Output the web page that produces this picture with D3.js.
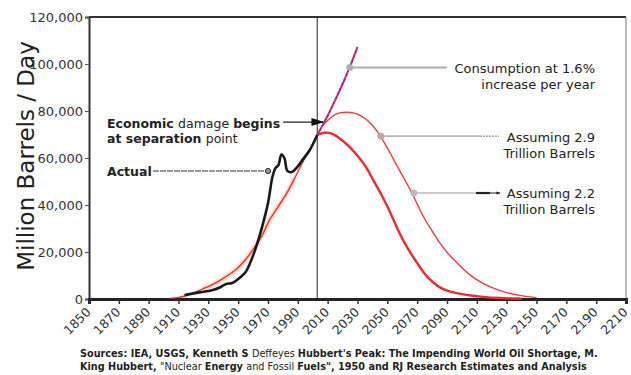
<!DOCTYPE html>
<html><head><meta charset="utf-8">
<script src="https://cdn.jsdelivr.net/npm/d3@7/dist/d3.min.js"></script>
<style>
html,body{margin:0;padding:0;background:#fff;}
svg{display:block;}
text{font-family:"DejaVu Sans",Verdana,sans-serif;}
</style></head><body>
<svg id="c" width="631" height="375"></svg>
<script>
// ---------- data ----------
const xTickYears = [1850,1870,1890,1910,1930,1950,1970,1990,2010,2030,2050,2070,2090,2110,2130,2150,2170,2190,2210];
const yTickValues = [0,20000,40000,60000,80000,100000,120000];

const actualYears  = [1914,1920,1926,1933,1938,1942,1946,1950,1955,1958,1962,1966,1970,1973,1975,1977,1979,1981,1983,1986,1989,1993,1998,2003];
const actualValues = [1700,2400,3000,3800,5000,6400,6800,8500,11500,15300,22100,30600,40800,52000,55700,57000,61500,60000,54500,54000,55700,59100,63400,69800];

const histFitYears  = [1905,1910,1915,1920,1926,1933,1940,1949,1955,1960,1966,1971,1977,1983,1988,1993,1998,2003];
const histFitValues = [300,700,1400,2500,4200,6200,8800,12800,16800,21000,27000,33600,39500,45500,51500,57900,63500,69800];

const consYears  = [2003,2010,2015,2020,2025,2030];
const consValues = [69800,78000,84600,91500,99000,107200];

const hub22Years  = [2003,2008,2013,2019,2025,2030,2036,2041,2047,2053,2058,2064,2070,2075,2081,2086,2092,2103,2114,2125,2140];
const hub22Values = [69800,71000,70600,68000,64700,61000,56200,50000,43400,35500,28000,21000,15300,10500,6800,4500,3000,1700,850,400,150];

const hub29Years  = [2007,2010,2014,2018,2023,2028,2032,2037,2043,2048,2052,2057,2063,2069,2074,2080,2085,2091,2097,2102,2107,2113,2119,2130,2141,2150];
const hub29Values = [74000,76000,78300,79300,79600,79200,78300,76000,71900,66500,62100,56000,49400,42000,34900,29000,23800,19000,15300,12000,9400,7000,5100,2500,1200,600];

const separationYear = 2003;

// ---------- layout ----------
const svg = d3.select("#c");
const L = 89, R = 626, T = 17, B = 299;
const x = d3.scaleLinear().domain([1850,2210]).range([L,R]);
const y = d3.scaleLinear().domain([0,120000]).range([B,T]);
const smooth = d3.line().x(d=>x(d[0])).y(d=>y(d[1])).curve(d3.curveBasis);
const through = d3.line().x(d=>x(d[0])).y(d=>y(d[1])).curve(d3.curveCatmullRom.alpha(0.5));
const zip = (a,b)=>a.map((v,i)=>[v,b[i]]);

// frame
svg.append("line").attr("x1",L).attr("x2",R).attr("y1",T).attr("y2",T).attr("stroke","#333").attr("stroke-width",2);
svg.append("line").attr("x1",R).attr("x2",R).attr("y1",T).attr("y2",B).attr("stroke","#777").attr("stroke-width",1);

// y axis
const ya = svg.append("g").attr("transform",`translate(${L},0)`)
  .call(d3.axisLeft(y).tickValues(yTickValues).tickFormat(d3.format(",")).tickSize(4).tickPadding(2));
ya.select(".domain").attr("stroke","#333").attr("stroke-width",2);
ya.selectAll(".tick line").attr("stroke","#555");
ya.selectAll(".tick text").attr("font-size",13).attr("fill","#333").attr("font-family","DejaVu Sans");

// x axis
const xa = svg.append("g").attr("transform",`translate(0,${B})`)
  .call(d3.axisBottom(x).tickValues(xTickYears).tickFormat(d3.format("d")).tickSize(5));
xa.select(".domain").attr("stroke","#222").attr("stroke-width",3);
xa.selectAll(".tick line").attr("stroke","#333").attr("stroke-width",1.5);
xa.selectAll(".tick text").attr("font-size",12.5).attr("fill","#333").attr("font-family","DejaVu Sans")
  .attr("text-anchor","end").attr("dy",0).attr("y",0)
  .attr("transform","translate(2,14) rotate(-45)");

// separation line
svg.append("line").attr("x1",x(separationYear)).attr("x2",x(separationYear)).attr("y1",T).attr("y2",B)
  .attr("stroke","#222").attr("stroke-width",1);

// historical fit with halo
const histPts = zip(histFitYears,histFitValues);
svg.append("path").datum(histPts.filter(d=>d[0]>=1926&&d[0]<=1988)).attr("d",through)
  .attr("fill","none").attr("stroke","#f7cfb0").attr("stroke-width",5).attr("opacity",0.7);
svg.append("path").datum(histPts).attr("d",through).attr("fill","none").attr("stroke","#f0302f").attr("stroke-width",1.4);

// hubbert curves
svg.append("path").datum(zip(hub29Years,hub29Values)).attr("d",smooth).attr("fill","none").attr("stroke","#f23a3c").attr("stroke-width",1.4);
svg.append("path").datum(zip(hub22Years,hub22Values)).attr("d",smooth).attr("fill","none").attr("stroke","#ee2a30").attr("stroke-width",2.4);

// consumption
svg.append("path").datum(zip(consYears,consValues)).attr("d",through).attr("fill","none").attr("stroke","#e8303a").attr("stroke-width",2);
svg.append("path").datum(zip(consYears,consValues)).attr("d",through).attr("fill","none").attr("stroke","#7a2fc0").attr("stroke-width",1.6).attr("stroke-dasharray","3,2");

// actual
svg.append("path").datum(zip(actualYears,actualValues)).attr("d",through).attr("fill","none").attr("stroke","#1a1a1a").attr("stroke-width",2.6).attr("stroke-linejoin","round");

// ---------- annotations ----------
svg.append("text").attr("transform","translate(34,156) rotate(-90)").attr("text-anchor","middle")
  .attr("font-size",23).attr("fill","#222").text("Million Barrels / Day");

function richText(xp, yp, parts, anchor, size, family){
  const t = svg.append("text").attr("x",xp).attr("y",yp).attr("font-size",size).attr("fill","#222").attr("text-anchor",anchor||"start");
  if (family) t.attr("font-family",family);
  parts.forEach(p=>t.append("tspan").attr("font-weight",p[1]?"bold":"normal").text(p[0]));
  return t;
}
richText(107,128,[["Economic ",1],["damage ",0],["begins",1]],"start",12.5);
richText(107,143,[["at separation ",1],["point",0]],"start",12.5);
richText(107,176,[["Actual",1]],"start",12.5);

richText(595,73,[["Consumption at 1.6%",0]],"end",13);
richText(595,89,[["increase per year",0]],"end",13);
richText(595,142,[["Assuming 2.9",0]],"end",13);
richText(595,158,[["Trillion Barrels",0]],"end",13);
richText(595,198,[["Assuming 2.2",0]],"end",13);
richText(595,214,[["Trillion Barrels",0]],"end",13);

// connectors
const defs = svg.append("defs");
defs.append("marker").attr("id","ah").attr("viewBox","0 0 10 10").attr("refX",9).attr("refY",5)
  .attr("markerWidth",4).attr("markerHeight",4).attr("orient","auto")
  .append("path").attr("d","M0,1 L10,5 L0,9 Z").attr("fill","#222");

// economic damage
const ecoY = y(75300);
svg.append("line").attr("x1",283).attr("x2",323).attr("y1",ecoY).attr("y2",ecoY).attr("stroke","#222").attr("stroke-width",1.2);
svg.append("path").attr("d",`M${x(2004.5)-8},${ecoY-4} L${x(2004.5)+5},${ecoY} L${x(2004.5)-8},${ecoY+4} Z`).attr("fill","#111");

// actual
const actY = 171;
svg.append("line").attr("x1",153).attr("x2",266).attr("y1",actY).attr("y2",actY).attr("stroke","#333").attr("stroke-width",1.2).attr("stroke-dasharray","6,1");
svg.append("circle").attr("cx",268).attr("cy",actY).attr("r",2.6).attr("fill","#999").attr("stroke","#333").attr("stroke-width",1);

// consumption
const cY = y(98500), cX = x(2024.8);
svg.append("line").attr("x1",cX).attr("x2",447).attr("y1",cY).attr("y2",cY).attr("stroke","#b0b0b0").attr("stroke-width",2);
svg.append("circle").attr("cx",cX).attr("cy",cY).attr("r",3.5).attr("fill","#b0b0b0");

// 2.9
const a9X = x(2045.7), a9Y = y(69300);
svg.append("line").attr("x1",a9X).attr("x2",480).attr("y1",a9Y).attr("y2",a9Y).attr("stroke","#b8b8b8").attr("stroke-width",1.6);
svg.append("line").attr("x1",480).attr("x2",499).attr("y1",a9Y).attr("y2",a9Y).attr("stroke","#777").attr("stroke-width",1).attr("stroke-dasharray","2,1");
svg.append("circle").attr("cx",a9X).attr("cy",a9Y).attr("r",3.5).attr("fill","#c0a8a0");

// 2.2
const a2X = x(2067.8), a2Y = y(45100);
svg.append("line").attr("x1",a2X).attr("x2",476).attr("y1",a2Y).attr("y2",a2Y).attr("stroke","#bbb").attr("stroke-width",1.6);
svg.append("line").attr("x1",476).attr("x2",490).attr("y1",a2Y).attr("y2",a2Y).attr("stroke","#222").attr("stroke-width",2.2);
svg.append("line").attr("x1",490).attr("x2",500).attr("y1",a2Y).attr("y2",a2Y).attr("stroke","#222").attr("stroke-width",1).attr("marker-end","url(#ah)");
svg.append("circle").attr("cx",a2X).attr("cy",a2Y).attr("r",3.5).attr("fill","#bbb");

// sources
richText(80,357,[["Sources: IEA, USGS, Kenneth S ",1],["Deffeyes ",0],["Hubbert's Peak: The Impending World Oil Shortage, M.",1]],"start",9.7,"Open Sans");
richText(80,370,[["King Hubbert, ",1],["\"Nuclear ",0],["Energy ",1],["and Fossil ",0],["Fuels\", 1950 and RJ Research Estimates and Analysis",1]],"start",9.7,"Open Sans");
</script>
</body></html>
